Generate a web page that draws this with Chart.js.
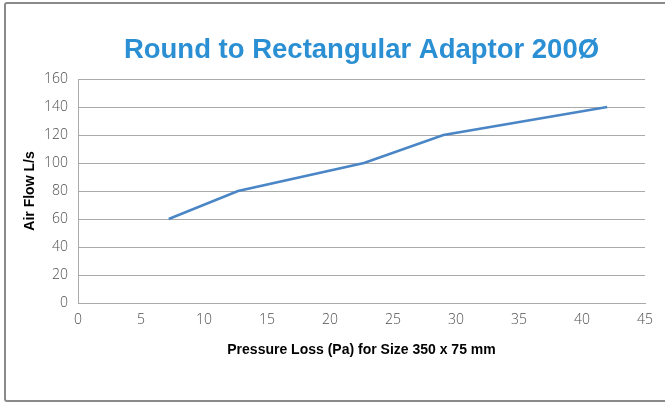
<!DOCTYPE html>
<html>
<head>
<meta charset="utf-8">
<script src="https://cdn.jsdelivr.net/npm/chart.js@4/dist/chart.umd.min.js"></script>
<style>
  html, body { margin: 0; padding: 0; background: #fff; }
  #wrap { position: relative; width: 665px; height: 406px; overflow: hidden; }
  #frame { position: absolute; left: 4px; top: 2px; width: 680px; height: 400px;
           border: 2px solid #8a8a8a; border-radius: 3px; box-sizing: border-box; }
  canvas { position: absolute; left: 0; top: 0; }
</style>
</head>
<body>
<div id="wrap">
  <div id="frame"></div>
  <canvas id="c" width="665" height="406"></canvas>
</div>
<script>
// Pressure loss (Pa) against air flow (L/s)
const pressureLoss = [7.2, 12.7, 22.7, 29.0, 42.0];
const airFlow = [60, 80, 100, 120, 140];
const xTicks = [0, 5, 10, 15, 20, 25, 30, 35, 40, 45];
const yTicks = [0, 20, 40, 60, 80, 100, 120, 140, 160];

const chartTitle = 'Round to Rectangular Adaptor 200Ø';
const xTitle = 'Pressure Loss (Pa) for Size 350 x 75 mm';
const yTitle = 'Air Flow L/s';

// Title centred over the plot area
const plotTitle = {
  id: 'plotTitle',
  afterDraw(chart) {
    const { ctx, chartArea } = chart;
    ctx.save();
    ctx.font = 'bold 27.5px "Liberation Sans", Arial, sans-serif';
    ctx.fillStyle = '#2b8fd4';
    ctx.textAlign = 'center';
    ctx.textBaseline = 'middle';
    ctx.fillText(chartTitle, (chartArea.left + chartArea.right) / 2, 50);
    ctx.restore();
  }
};

const tickFont = { family: '"Open Sans", "DejaVu Sans", sans-serif', size: 14, weight: 300 };
const titleFont = { family: '"Liberation Sans", Arial, sans-serif', size: 14, weight: 'bold' };

new Chart(document.getElementById('c'), {
  type: 'scatter',
  data: {
    datasets: [{
      data: pressureLoss.map((x, i) => ({ x, y: airFlow[i] })),
      showLine: true,
      borderColor: '#4a86c6',
      borderWidth: 2.5,
      pointRadius: 0,
      tension: 0,
      fill: false
    }]
  },
  plugins: [plotTitle],
  options: {
    responsive: false,
    animation: false,
    layout: { padding: { top: 79, right: 20, bottom: 0, left: 0 } },
    plugins: { legend: { display: false }, tooltip: { enabled: false }, title: { display: false } },
    scales: {
      x: {
        type: 'linear',
        min: 0, max: 45,
        afterBuildTicks: s => { s.ticks = xTicks.map(v => ({ value: v })); },
        afterFit: s => { s.height = 103; },
        grid: { display: false, drawTicks: false },
        border: { display: true, color: '#aaaaaa', width: 1 },
        ticks: { font: tickFont, color: '#4d4d4d', padding: 9, maxRotation: 0 },
        title: { display: true, text: xTitle, font: titleFont, color: '#000', padding: { top: 0, bottom: 47 } }
      },
      y: {
        type: 'linear',
        min: 0, max: 160,
        afterBuildTicks: s => { s.ticks = yTicks.map(v => ({ value: v })); },
        afterFit: s => { s.width = 78; },
        grid: { display: true, color: '#aaaaaa', lineWidth: 1, drawTicks: false },
        border: { display: true, color: '#aaaaaa', width: 1 },
        ticks: { font: tickFont, color: '#4d4d4d', padding: 10 },
        title: { display: true, text: yTitle, font: titleFont, color: '#000', padding: { top: 22, bottom: 0 } }
      }
    }
  }
});
</script>
</body>
</html>
